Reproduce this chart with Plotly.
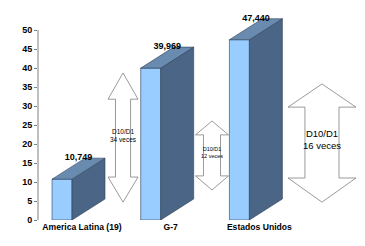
import plotly.graph_objects as go

categories = ["America Latina (19)", "G-7", "Estados Unidos"]
values = [10.749, 39.969, 47.440]
value_labels = ["10,749", "39,969", "47,440"]
y_ticks = [0, 5, 10, 15, 20, 25, 30, 35, 40, 45, 50]

# double arrows between bars: label, center (category units), tip top, head base top, head base bottom, tip bottom, head half width, body half width, font size
arrow_labels = ["D10/D1<br>34 veces", "D10/D1<br>12 veces", "D10/D1<br>16 veces"]
arrow_x = [0.688, 1.691, 2.931]
arrow_tip_top = [38.7, 26.05, 35.8]
arrow_base_top = [31.8, 22.4, 29.7]
arrow_base_bot = [11.3, 11.6, 11.05]
arrow_tip_bot = [4.7, 7.9, 4.7]
arrow_head_hw = [0.169, 0.186, 0.383]
arrow_body_hw = [0.085, 0.096, 0.192]
arrow_font = [6.5, 5.5, 9.5]

# layout/style
BAR_W = 0.2255
DX = 0.372
DY = 5.53
LABEL_SHIFT = 0.225
FRONT = "#99CCFF"
TOP = "#6A8BB0"
SIDE = "#4A6585"
EDGE = "#2E3F55"

fig = go.Figure()
xs = list(range(len(categories)))

for i, v in enumerate(values):
    xl = xs[i] - BAR_W / 2
    xr = xs[i] + BAR_W / 2
    # side face
    fig.add_trace(go.Scatter(
        x=[xr, xr + DX, xr + DX, xr, xr], y=[0, DY, v + DY, v, 0],
        mode="lines", fill="toself", fillcolor=SIDE,
        line=dict(color=EDGE, width=0.6), hoverinfo="skip", showlegend=False))
    # top face
    fig.add_trace(go.Scatter(
        x=[xl, xl + DX, xr + DX, xr, xl], y=[v, v + DY, v + DY, v, v],
        mode="lines", fill="toself", fillcolor=TOP,
        line=dict(color=EDGE, width=0.6), hoverinfo="skip", showlegend=False))

# front faces
fig.add_trace(go.Bar(
    x=xs, y=values, width=BAR_W, marker=dict(color=FRONT, line=dict(color=EDGE, width=0.6)),
    hoverinfo="skip", showlegend=False))

# value labels
fig.add_trace(go.Scatter(
    x=[x + DX / 2 for x in xs], y=[v + DY for v in values], mode="text",
    text=value_labels, textposition="middle center",
    textfont=dict(family="Liberation Sans, Arial", size=9, color="#000000", weight="bold"),
    hoverinfo="skip", showlegend=False, cliponaxis=False))

shapes = []
annotations = []
for i in range(len(arrow_labels)):
    c = arrow_x[i]
    hh = arrow_head_hw[i]
    bh = arrow_body_hw[i]
    pts = [
        (c, arrow_tip_top[i]),
        (c + hh, arrow_base_top[i]),
        (c + bh, arrow_base_top[i]),
        (c + bh, arrow_base_bot[i]),
        (c + hh, arrow_base_bot[i]),
        (c, arrow_tip_bot[i]),
        (c - hh, arrow_base_bot[i]),
        (c - bh, arrow_base_bot[i]),
        (c - bh, arrow_base_top[i]),
        (c - hh, arrow_base_top[i]),
    ]
    path = "M " + " L ".join(f"{px},{py}" for px, py in pts) + " Z"
    shapes.append(dict(type="path", path=path, xref="x", yref="y",
                       fillcolor="#FFFFFF", line=dict(color="#808080", width=0.8), layer="above"))
    annotations.append(dict(x=c, y=(arrow_base_top[i] + arrow_base_bot[i]) / 2 + 0.8,
                            xref="x", yref="y", text=arrow_labels[i], showarrow=False,
                            font=dict(family="Liberation Sans, Arial", size=arrow_font[i], color="#000000")))

# y axis line from 0 to 50
shapes.append(dict(type="line", xref="paper", yref="y", x0=0, x1=0, y0=0, y1=50,
                   line=dict(color="#808080", width=1)))

PX_PER_CAT = 88.7
L = 38
W = 365
H = 246
T = 3
B = 26
xmin = (L - 62) / PX_PER_CAT
xmax = (W - 62) / PX_PER_CAT
ymax = (H - T - B) / 3.8

fig.update_layout(
    width=W, height=H,
    margin=dict(l=L, r=0, t=T, b=B),
    paper_bgcolor="white", plot_bgcolor="white",
    barmode="overlay",
    shapes=shapes, annotations=annotations,
    xaxis=dict(range=[xmin, xmax], tickvals=[x + LABEL_SHIFT for x in xs], ticktext=categories,
               showgrid=False, zeroline=False, showline=False, ticks="", ticklen=0,
               tickfont=dict(family="Liberation Sans, Arial", size=8.6, color="#000000", weight="bold")),
    yaxis=dict(range=[0, ymax], tickvals=y_ticks, showgrid=False, zeroline=False,
               showline=False, ticks="outside", ticklen=3, tickcolor="#808080",
               tickfont=dict(family="Liberation Sans, Arial", size=9, color="#000000", weight="bold")),
)

fig.write_html("out.html")
